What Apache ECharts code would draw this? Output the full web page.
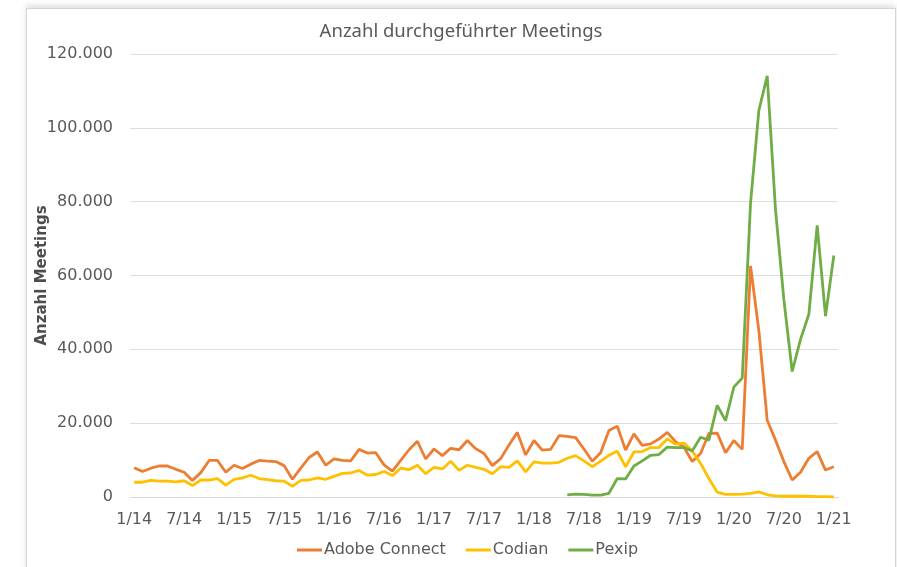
<!DOCTYPE html>
<html>
<head>
<meta charset="utf-8">
<script src="https://cdn.jsdelivr.net/npm/echarts@6/dist/echarts.min.js"></script>
<style>
  body { margin: 0; background: #fff; }
  #card { position: absolute; left: 26px; top: 8px; width: 868px; height: 580px;
          border: 1px solid #d4d4d4; background: #fff;
          box-shadow: 0 -3px 6px rgba(0,0,0,0.12); }
  #main { position: absolute; left: 0; top: 0; width: 897px; height: 567px; }
</style>
</head>
<body>
<div id="card"></div>
<div id="main"></div>
<script>
// monthly, 1/14 .. 1/21
var months = []
for (var y = 14; y <= 21; y++) {
  for (var m = 1; m <= 12; m++) {
    if (y === 21 && m > 1) break
    months.push(m + '/' + y)
  }
}

var seriesNames = ['Adobe Connect', 'Codian', 'Pexip']

// values in thousands of meetings
var adobeConnect = [
  7.9, 6.9, 7.8, 8.4, 8.4, 7.5, 6.7, 4.5, 6.6, 9.9, 9.9, 6.7,
  8.6, 7.7, 8.9, 9.9, 9.7, 9.6, 8.5, 4.8, 7.8, 10.7, 12.2, 8.6,
  10.3, 9.9, 9.8, 12.9, 11.9, 12.0, 8.7, 7.0, 9.9, 12.8, 15.1, 10.3,
  13.0, 11.2, 13.2, 12.8, 15.3, 13.1, 11.8, 8.5, 10.4, 14.1, 17.5, 11.4,
  15.3, 12.7, 12.9, 16.6, 16.4, 16.1, 13.0, 9.7, 12.0, 18.0, 19.2, 12.7,
  17.1, 14.0, 14.4, 15.7, 17.5, 15.0, 13.5, 9.6, 11.8, 17.2, 17.3, 12.0,
  15.3, 12.9, 62.6, 45.0, 20.8, 15.4, 9.6, 4.6, 6.7, 10.5, 12.3, 7.3,
  8.2
]
var codian = [
  4.0, 4.0, 4.5, 4.3, 4.3, 4.1, 4.4, 3.1, 4.6, 4.6, 5.0, 3.2,
  4.8, 5.2, 5.9, 5.0, 4.7, 4.4, 4.3, 2.9, 4.5, 4.6, 5.2, 4.8,
  5.6, 6.4, 6.5, 7.2, 5.9, 6.1, 6.9, 5.8, 7.8, 7.4, 8.6, 6.3,
  8.0, 7.6, 9.7, 7.2, 8.6, 8.0, 7.5, 6.3, 8.2, 8.0, 9.8, 6.8,
  9.5, 9.2, 9.2, 9.4, 10.5, 11.2, 9.8, 8.2, 9.7, 11.3, 12.4, 8.2,
  12.2, 12.3, 13.4, 13.4, 15.7, 14.3, 14.6, 12.5, 9.1, 5.0, 1.3, 0.7,
  0.7, 0.8, 1.0, 1.4, 0.6, 0.3, 0.2, 0.2, 0.2, 0.2, 0.1, 0.1,
  0.0
]
var pexip = [
  null, null, null, null, null, null, null, null, null, null, null, null,
  null, null, null, null, null, null, null, null, null, null, null, null,
  null, null, null, null, null, null, null, null, null, null, null, null,
  null, null, null, null, null, null, null, null, null, null, null, null,
  null, null, null, null, 0.6, 0.8, 0.7, 0.5, 0.5, 1.0, 5.0, 4.9,
  8.4, 9.8, 11.3, 11.5, 13.5, 13.4, 13.4, 12.5, 16.2, 15.4, 24.8, 20.7,
  29.8, 32.2, 79.6, 104.7, 114.1, 77.8, 53.5, 34.0, 42.7, 49.5, 73.6, 49.0,
  65.4
]

var colors = ['#ED7D31', '#FFC000', '#70AD47']

function fmt(v) {
  return String(Math.round(v)).replace(/\B(?=(\d{3})+(?!\d))/g, '.')
}
function toCount(arr) {
  return arr.map(function (v) { return v == null ? null : Math.round(v * 1000) })
}

var myChart = echarts.init(document.getElementById('main'), null, {renderer: 'canvas'})

var txt = '#595959'
var option = {
  backgroundColor: 'transparent',
  color: colors,
  animation: false,
  title: {
    text: 'Anzahl durchgeführter Meetings',
    left: 456,
    textAlign: 'center',
    top: 17,
    textStyle: {fontFamily: 'Noto Sans', fontSize: 18.5, fontWeight: 'normal', color: txt}
  },
  legend: {
    data: seriesNames.map(function (n) { return {name: n, icon: 'rect'} }),
    left: 292,
    top: 537,
    itemWidth: 25,
    itemHeight: 3,
    itemGap: 20,
    textStyle: {fontFamily: 'DejaVu Sans', fontSize: 16, color: txt, padding: [0, 0, 0, -3]}
  },
  grid: {left: 130, right: 59, top: 54, bottom: 70},
  xAxis: {
    type: 'category',
    data: months,
    boundaryGap: true,
    axisLine: {lineStyle: {color: '#d9d9d9', width: 1}},
    axisTick: {interval: 5, length: 5, lineStyle: {color: '#d9d9d9'}},
    axisLabel: {interval: 5, margin: 15, fontFamily: 'DejaVu Sans', fontSize: 16, color: txt}
  },
  yAxis: {
    type: 'value',
    min: 0,
    max: 120000,
    interval: 20000,
    name: 'Anzahl Meetings',
    nameLocation: 'middle',
    nameGap: 80,
    nameMoveOverlap: false,
    nameTextStyle: {fontFamily: 'DejaVu Sans', fontSize: 15, fontWeight: 'bold', color: '#4d4d4d'},
    axisLine: {show: false},
    axisTick: {show: false},
    splitLine: {lineStyle: {color: '#dedede', width: 1}},
    axisLabel: {margin: 17, fontFamily: 'DejaVu Sans', fontSize: 16, color: txt, formatter: fmt}
  },
  series: [
    {name: seriesNames[0], type: 'line', data: toCount(adobeConnect)},
    {name: seriesNames[1], type: 'line', data: toCount(codian)},
    {name: seriesNames[2], type: 'line', data: toCount(pexip)}
  ].map(function (s) {
    s.showSymbol = false
    s.symbol = 'none'
    s.lineStyle = {width: 2.8}
    return s
  })
}

myChart.setOption(option)
</script>
</body>
</html>
